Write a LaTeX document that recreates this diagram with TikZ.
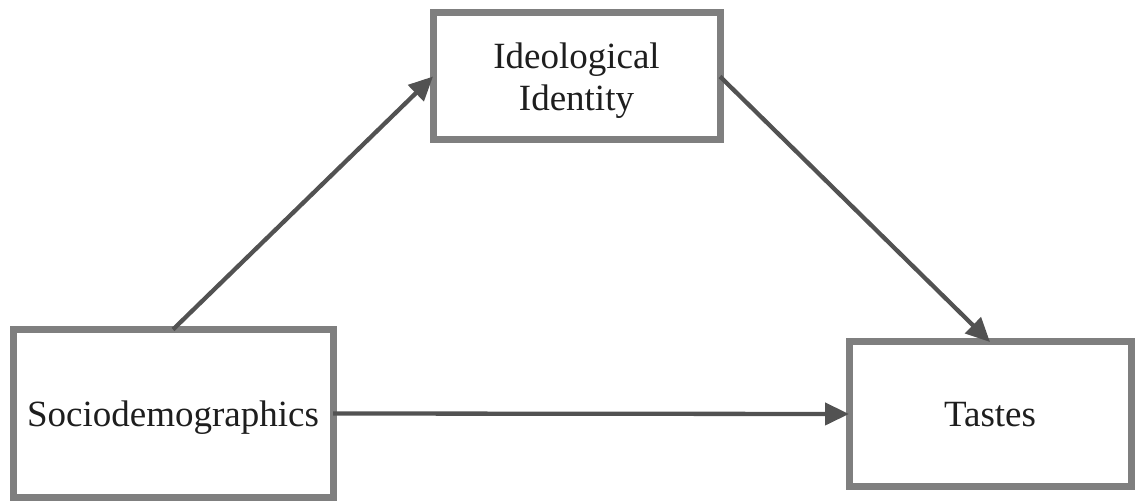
\documentclass[tikz,border=0pt]{standalone}
\usepackage{fontspec}
\setmainfont{Liberation Serif}
\usetikzlibrary{arrows.meta}
\definecolor{boxgray}{HTML}{7F7F7F}
\definecolor{arrowgray}{HTML}{525252}
\definecolor{textgray}{HTML}{1E1E1E}
\tikzset{
  varbox/.style={draw=boxgray, line width=7pt, fill=white, rectangle, outer sep=0pt, inner sep=0pt,
    align=center, text=textgray, text depth=0pt, font=\fontsize{37}{42}\selectfont},
  conn/.style={draw=arrowgray, line width=4.3pt, -{Triangle[length=24pt,width=22pt]}}
}
\begin{document}
\begin{tikzpicture}[x=1pt,y=-1pt]
\useasboundingbox (0,0) rectangle (1135,502);
\node[varbox, minimum width=287pt, minimum height=127pt] (ideo) at (576.5,76.5) {Ideological\\Identity};
\node[varbox, minimum width=320pt, minimum height=168pt] (socio) at (173,413.5) {Sociodemographics};
\node[varbox, minimum width=282pt, minimum height=144pt] (tastes) at (990,414) {Tastes};
\draw[conn] (socio.north) -- (ideo.west);
\draw[conn] (ideo.east) -- (tastes.north);
\draw[conn] (socio.east) -- (tastes.west);
\end{tikzpicture}
\end{document}
